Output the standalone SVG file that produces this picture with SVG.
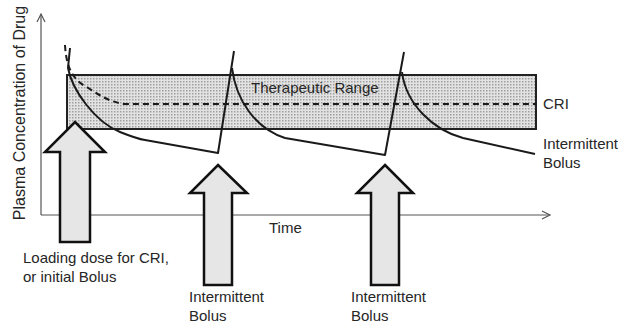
<svg xmlns="http://www.w3.org/2000/svg" width="628" height="325" viewBox="0 0 628 325">
<style>
text{font-family:"Liberation Sans",Arial,sans-serif;font-size:15px;fill:#262626}
.axis{stroke:#555;stroke-width:1.2;fill:none}
.curve{stroke:#1a1a1a;stroke-width:2;fill:none;stroke-linejoin:round}
.dash{stroke:#1a1a1a;stroke-width:2;fill:none;stroke-dasharray:6 4}
.bigarrow{fill:#e6e6e6;stroke:#111;stroke-width:2.5;stroke-linejoin:miter}
</style>
<defs>
<pattern id="dots" width="3" height="3" patternUnits="userSpaceOnUse">
<rect width="3" height="3" fill="#e2e2e2"/>
<rect width="1.5" height="1.5" fill="#a0a0a0"/>
</pattern>
<marker id="open" markerWidth="12" markerHeight="12" refX="10" refY="6" orient="auto" markerUnits="userSpaceOnUse">
<path d="M2,2 L10,6 L2,10" fill="none" stroke="#555" stroke-width="1.2"/>
</marker>
</defs>
<g id="axes">
<line class="axis" x1="41" y1="215" x2="41" y2="14" marker-end="url(#open)"/>
<line class="axis" x1="41" y1="215" x2="550" y2="215" marker-end="url(#open)"/>
<text transform="translate(25,113) rotate(-90)" text-anchor="middle" style="font-size:16px">Plasma Concentration of Drug</text>
<text x="269" y="233">Time</text>
</g>
<g id="therapeutic-range">
<rect x="67" y="75" width="469" height="54" fill="url(#dots)" stroke="#222" stroke-width="2"/>
<text x="251" y="93">Therapeutic Range</text>
</g>
<g id="connectors">
<path class="dash" d="M65,45 C66,62 70,78 85,86 C98,94 108,102 125,104 L536,104"/>
<path class="curve" d="M70,48 L68,68 C72,90 95,122 120,132 C130,136 138,139 145,140 L218,153 L234,51"/>
<path class="curve" d="M232,68 C236,100 255,128 285,138 L385,155 L404,52"/>
<path class="curve" d="M402,72 C406,104 433,130 463,138 L535,154"/>
</g>
<g id="cri-label"><text x="543" y="109">CRI</text></g>
<g id="bolus-label"><text x="543" y="149">Intermittent</text><text x="543" y="168">Bolus</text></g>
<g id="loading-arrow">
<path class="bigarrow" d="M75,122 L105,152 L90,152 L90,242 L60,242 L60,152 L45,152 Z"/>
<text x="23" y="263">Loading dose for CRI,</text>
<text x="23" y="282">or initial Bolus</text>
</g>
<g id="bolus-arrow-1">
<path class="bigarrow" d="M218,165 L247,193 L232,193 L232,285 L204,285 L204,193 L190,193 Z"/>
<text x="189" y="302">Intermittent</text>
<text x="189" y="321">Bolus</text>
</g>
<g id="bolus-arrow-2">
<path class="bigarrow" d="M385,165 L413,193 L399,193 L399,285 L371,285 L371,193 L357,193 Z"/>
<text x="351" y="302">Intermittent</text>
<text x="351" y="321">Bolus</text>
</g>
</svg>
